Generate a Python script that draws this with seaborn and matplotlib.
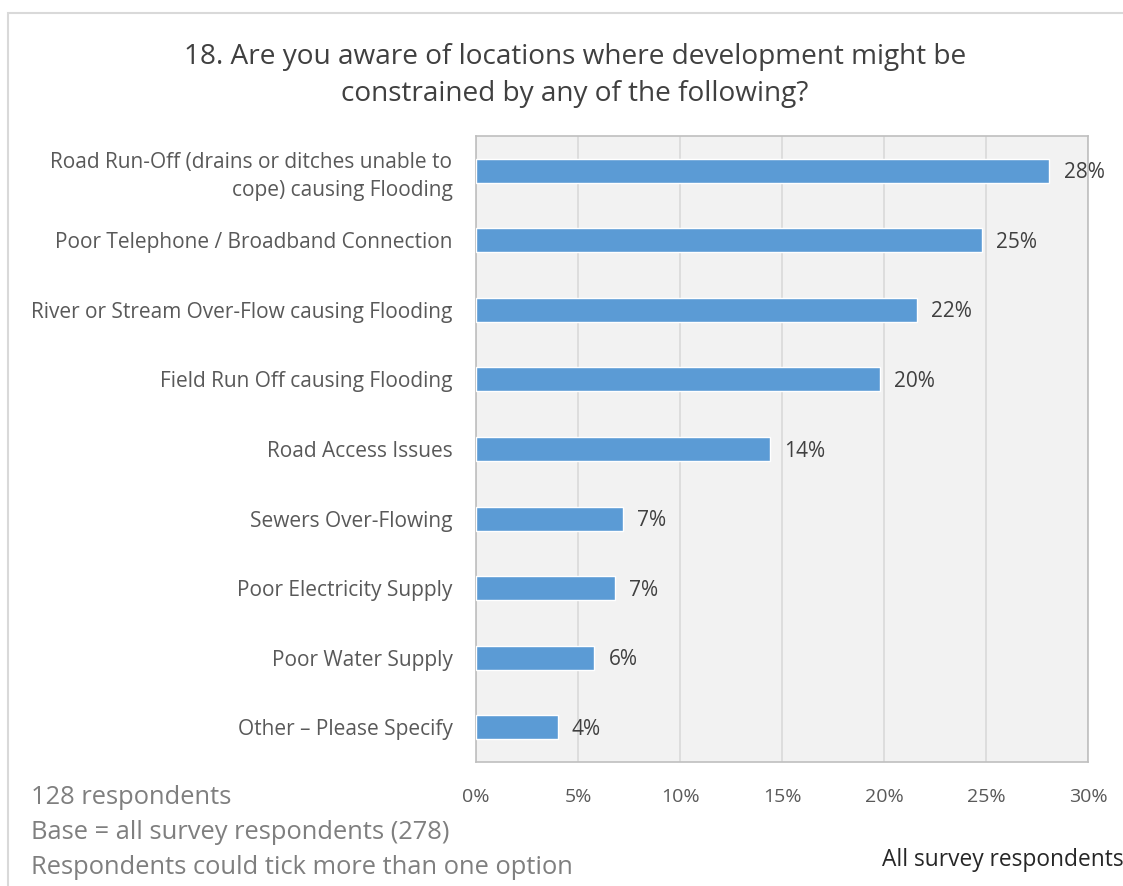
import matplotlib
matplotlib.use("Agg")
import matplotlib.pyplot as plt
import seaborn as sns
import pandas as pd
from matplotlib.patches import Rectangle
from matplotlib.ticker import FuncFormatter

categories = [
    "Road Run-Off (drains or ditches unable to\ncope) causing Flooding",
    "Poor Telephone / Broadband Connection",
    "River or Stream Over-Flow causing Flooding",
    "Field Run Off causing Flooding",
    "Road Access Issues",
    "Sewers Over-Flowing",
    "Poor Electricity Supply",
    "Poor Water Supply",
    "Other \u2013 Please Specify",
]
percent = [28.1, 24.8, 21.6, 19.8, 14.4, 7.2, 6.8, 5.8, 4.0]
xticks = [0, 5, 10, 15, 20, 25, 30]

title = "18. Are you aware of locations where development might be\nconstrained by any of the following?"
notes = ["128 respondents", "Base = all survey respondents (278)",
         "Respondents could tick more than one option"]
corner_note = "All survey respondents"

df = pd.DataFrame({"category": categories, "percent": percent})

sns.set_style("white")
plt.rcParams["font.family"] = ["Open Sans", "DejaVu Sans"]
text_col = "#595959"

fig = plt.figure(figsize=(11.23, 8.86), dpi=100)
ax = fig.add_axes([0.4239, 0.140, 0.5450, 0.7065])
ax.set_facecolor("#f2f2f2")

sns.barplot(data=df, x="percent", y="category", color="#5b9bd5",
            width=0.345, saturation=1, ax=ax, zorder=3)

ax.set_xlim(0, 30)
ax.set_ylim(8.5, -0.5)
ax.set_xticks(xticks)
ax.xaxis.set_major_formatter(FuncFormatter(lambda v, p: f"{int(v)}%"))
ax.grid(axis="x", color="#d9d9d9", linewidth=1.2, zorder=0)
ax.set_axisbelow(True)
ax.set_xlabel("")
ax.set_ylabel("")
for s in ax.spines.values():
    s.set_color("#bfbfbf")
    s.set_linewidth(1.2)
ax.tick_params(axis="both", length=0, colors=text_col)
ax.tick_params(axis="x", pad=19, labelsize=14)
ax.tick_params(axis="y", pad=17, labelsize=15)
for lbl in ax.get_yticklabels():
    lbl.set_linespacing(1.4)

for p, v in zip(ax.patches, percent):
    ax.text(p.get_width() + 0.7, p.get_y() + p.get_height() / 2 + 0.03,
            f"{round(v):.0f}%", va="center", ha="left",
            fontsize=15, color="#404040", zorder=4, clip_on=False)

fig.text(0.512, 0.915, title, ha="center", va="center", fontsize=20.2,
         color="#404040", linespacing=1.4)

for i, n in enumerate(notes):
    fig.text(0.028, 0.100 - i * 0.0395, n, ha="left", va="center",
             fontsize=18.4, color="#7f7f7f")
fig.text(0.785, 0.029, corner_note, ha="left", va="center",
         fontsize=16.4, color="#262626")

fig.patches.append(Rectangle((0.007, -0.1), 1.1, 1.085, transform=fig.transFigure,
                             fill=False, edgecolor="#d9d9d9", linewidth=1.5))

fig.savefig("out.png", dpi=100)
